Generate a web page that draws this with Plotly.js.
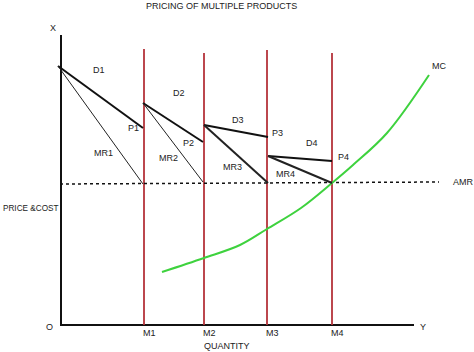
<!DOCTYPE html>
<html>
<head>
<meta charset="utf-8">
<script src="https://cdn.plot.ly/plotly-3.0.1.min.js"></script>
<style>html,body{margin:0;padding:0;background:#fff;}#chart{width:474px;height:352px;}</style>
</head>
<body>
<div id="chart"></div>
<script>
// ---- data (price/quantity units) ----
const titleText = "PRICING OF MULTIPLE PRODUCTS";
const quantityLabels = ["M1", "M2", "M3", "M4"];
const quantities = [8.3, 14.3, 20.6, 27.1];
const quantityLineTops = [27.6, 27.2, 27.5, 27.2];

const demandLabels = ["D1", "D2", "D3", "D4"];
const demandStartX = [-0.3, 8.2, 14.3, 20.7];
const demandStartY = [25.9, 22.2, 20.0, 16.9];
const demandEndX = [8.2, 14.2, 20.7, 27.1];
const demandEndY = [19.7, 18.3, 18.8, 16.4];
const mrEndY = [14.1, 14.3, 14.2, 14.2];
const mrWidths = [1, 1, 2, 2];

const priceLabels = ["P1", "P2", "P3", "P4"];
const mrLabels = ["MR1", "MR2", "MR3", "MR4"];

const amrX = [-0.1, 37.8];
const amrY = [14.1, 14.3];

const mcX = [10.1, 14.3, 17.9, 20.6, 24.0, 27.1, 29.2, 32.6, 36.8];
const mcY = [5.3, 6.7, 8.0, 9.6, 11.7, 14.2, 16.0, 19.2, 25.0];

const axisTopY = 29.0;
const axisEndX = 35.3;

// label positions
const demandLabelX = [3.8, 11.8, 17.7, 25.1];
const demandLabelY = [25.5, 23.2, 20.5, 18.2];
const priceLabelX = [7.2, 12.7, 21.6, 28.2];
const priceLabelY = [19.7, 18.2, 19.2, 16.8];
const mrLabelX = [4.2, 10.7, 17.1, 22.4];
const mrLabelY = [17.2, 16.7, 15.8, 15.1];

// ---- build traces ----
const black = "#111111";
const red = "#b5333a";
const green = "#3ed23e";
const traces = [];

// axes
traces.push({x: [0, 0, axisEndX], y: [axisTopY, 0, 0], mode: "lines",
  line: {color: black, width: 2}, hoverinfo: "skip"});

// vertical red quantity lines
quantities.forEach((q, i) => {
  traces.push({x: [q, q], y: [0, quantityLineTops[i]], mode: "lines",
    line: {color: red, width: 1.8}, hoverinfo: "skip"});
});

// AMR dotted
traces.push({x: amrX, y: amrY, mode: "lines",
  line: {color: black, width: 1.5, dash: "dot"}, hoverinfo: "skip"});

// MC curve
traces.push({x: mcX, y: mcY, mode: "lines",
  line: {color: green, width: 2, shape: "spline"}, hoverinfo: "skip"});

// demand and MR lines
demandLabels.forEach((d, i) => {
  traces.push({x: [demandStartX[i], demandEndX[i]], y: [demandStartY[i], demandEndY[i]],
    mode: "lines", line: {color: black, width: 2}, hoverinfo: "skip"});
  traces.push({x: [demandStartX[i], demandEndX[i]], y: [demandStartY[i], mrEndY[i]],
    mode: "lines", line: {color: "#222", width: mrWidths[i]}, hoverinfo: "skip"});
});

// ---- annotations ----
const font = {family: "Liberation Sans, Arial, sans-serif", size: 9, color: "#222"};
const ann = [];
function label(text, x, y, xanchor, size) {
  ann.push({text: text, x: x, y: y, xref: "x", yref: "y", showarrow: false,
    xanchor: xanchor || "center", yanchor: "middle",
    font: Object.assign({}, font, size ? {size: size} : {})});
}
demandLabels.forEach((t, i) => label(t, demandLabelX[i], demandLabelY[i]));
priceLabels.forEach((t, i) => label(t, priceLabelX[i], priceLabelY[i]));
mrLabels.forEach((t, i) => label(t, mrLabelX[i], mrLabelY[i]));
quantityLabels.forEach((t, i) => label(t, quantities[i] + 0.5, -0.8));
label("MC", 37.8, 25.9);
label("AMR", 39.0, 14.3, "left");
label("PRICE &COST", -6.0, 11.7, "left", 8.2);
label("QUANTITY", 16.6, -2.1);
label("X", -0.8, 29.7);
label("O", -1.2, -0.2);
label("Y", 36.2, -0.2);
label(titleText, 16.0, 31.9);

const layout = {
  width: 474, height: 352,
  margin: {l: 0, r: 0, t: 0, b: 0},
  paper_bgcolor: "#ffffff", plot_bgcolor: "#ffffff",
  showlegend: false,
  xaxis: {range: [-6.1, 41.3], visible: false, fixedrange: true},
  yaxis: {range: [-2.7, 32.5], visible: false, fixedrange: true},
  annotations: ann
};

Plotly.newPlot("chart", traces, layout, {displayModeBar: false, staticPlot: true});
</script>
</body>
</html>
